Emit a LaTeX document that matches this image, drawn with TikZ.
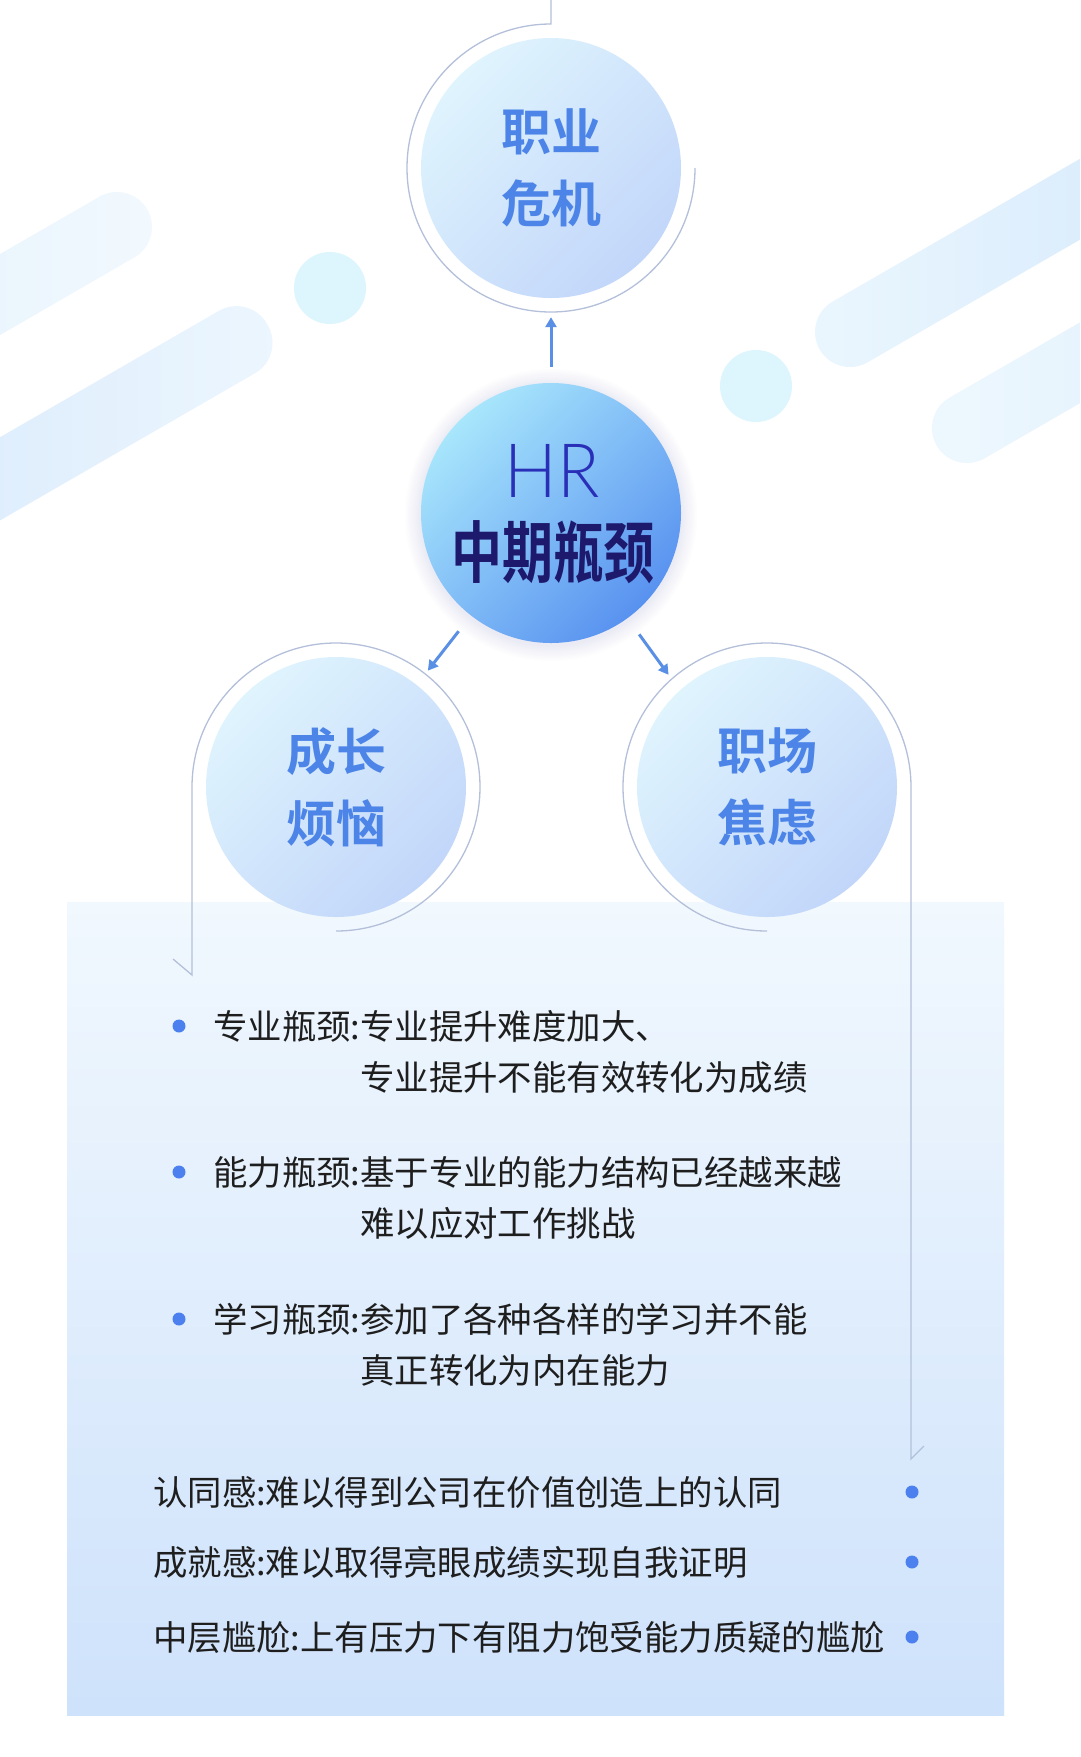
\documentclass[tikz,border=0pt]{standalone}
\usepackage{fontspec}
\usepackage{graphicx}
\usetikzlibrary{calc,arrows.meta}
\newfontfamily\cjk{Noto Sans CJK SC}
\IfFontExistsTF{Noto Sans CJK SC Bold}{\newfontfamily\cjkb{Noto Sans CJK SC Bold}}{\newfontfamily\cjkb{Noto Sans CJK SC}[FakeBold=2]}
\IfFontExistsTF{Lato Light}{\newfontfamily\hrfont{Lato Light}}{\newfontfamily\hrfont{Noto Sans}}
\definecolor{ringc}{HTML}{B4C0DA}
\definecolor{arrowc}{HTML}{5A8FE6}
\definecolor{circtxt}{HTML}{4C84E8}
\definecolor{dotc}{HTML}{4B80EE}
\definecolor{txtc}{HTML}{1E1E1E}
\definecolor{hrtxt}{HTML}{2A2FB8}
\definecolor{hrcn}{HTML}{1D1A6E}
\definecolor{cla}{HTML}{DFF4FD}
\definecolor{clb}{HTML}{C2D6FA}
\definecolor{cha}{HTML}{A8E6FC}
\definecolor{chb}{HTML}{5892F0}
\definecolor{boxa}{HTML}{F1F8FE}
\definecolor{boxb}{HTML}{CEE2FB}
\definecolor{dotcyan}{HTML}{DDF5FD}
\definecolor{pa}{HTML}{DDEEFC}
\definecolor{pb}{HTML}{F2F9FE}
\definecolor{pc}{HTML}{D2E6FB}
\definecolor{pd}{HTML}{ECF6FE}
\definecolor{pe}{HTML}{EBF7FE}
\definecolor{pf}{HTML}{D0E5FB}
\definecolor{pg}{HTML}{EEF8FE}
\begin{document}
\begin{tikzpicture}[x=1pt,y=1pt,
  sub/.style={circle, minimum size=260pt, inner sep=0pt, top color=cla, bottom color=clb, shading angle=45,
    font=\cjkb\fontsize{50}{72}\selectfont, text=circtxt, align=center},
  hrcirc/.style={circle, minimum size=260pt, inner sep=0pt, top color=cha, bottom color=chb, shading angle=45},
  ring/.style={draw=ringc, line width=1.3pt},
  arr/.style={draw=arrowc, line width=3pt, -{Triangle[length=10pt,width=11pt]}},
  txt/.style={font=\cjk\fontsize{34.4}{51}\selectfont, text=txtc, inner sep=0pt, anchor=base west},
  dot/.style={circle, fill=dotc, minimum size=13pt, inner sep=0pt},
  pill/.style={rounded corners=35pt}
]
\useasboundingbox (0,0) rectangle (1080,-1757);
\clip (0,0) rectangle (1080,-1757);
\fill[white] (0,0) rectangle (1080,-1757);

% decorative pills and dots
\begin{scope}[shift={(117,-227)}, rotate=30]
  \shade[pill, left color=pa, right color=pb] (-500,-35) rectangle (35,35);
\end{scope}
\begin{scope}[shift={(237,-342)}, rotate=30]
  \shade[pill, left color=pc, right color=pd] (-600,-36) rectangle (35,36);
\end{scope}
\begin{scope}[shift={(850,-332)}, rotate=30]
  \shade[pill, left color=pe, right color=pf] (-35,-35) rectangle (500,35);
\end{scope}
\begin{scope}[shift={(967,-428)}, rotate=30]
  \shade[pill, left color=pg, right color=pa] (-35,-35) rectangle (400,35);
\end{scope}
\fill[dotcyan] (330,-288) circle (36);
\fill[dotcyan] (756,-386) circle (36);

% light box
\shade[top color=boxa, bottom color=boxb] (67,-902) rectangle (1004,-1715);

% centre glow
\foreach \i in {1,...,10}
  \fill[black!45!blue!25, opacity=0.025] (551,-515) circle (130+1.6*\i);

% circles
\node[sub] (top) at (551,-168) {职业\\危机};
\node[sub] (left) at (336,-787) {成长\\烦恼};
\node[sub] (right) at (767,-787) {职场\\焦虑};
\node[hrcirc] (hr) at (551,-513) {};
\node[font=\hrfont\fontsize{75}{80}\selectfont, text=hrtxt, inner sep=0pt] (hrA) at (552,-471) {\scalebox{0.93}[1]{HR}};
\node[font=\cjkb\fontsize{67}{70}\selectfont, text=hrcn, inner sep=0pt] (hrB) at (553,-552) {\scalebox{0.76}[1]{中期瓶颈}};

% rings
\coordinate (topin) at (551,0);
\draw[ring] (topin) -- ($(top.center)+(0,144)$) arc[start angle=90, end angle=360, radius=144];
\draw[ring] ($(left.center)+(0,-144)$) arc[start angle=-90, end angle=180, radius=144]
  -- ++(0,-188) coordinate (lend) -- ++(-19,16);
\draw[ring] ($(right.center)+(0,-144)$) arc[start angle=270, end angle=0, radius=144]
  -- ++(0,-672) coordinate (rend) -- ++(13,13);

% arrows
\draw[arr] ($(hr.north)+(0,16)$) -- ($(top.south)+(0,-19)$);
\draw[arr] ($(hr.center)+(232:150)$) -- ($(hr.center)+(232:200)$);
\draw[arr] ($(hr.center)+(306:150)$) -- ($(hr.center)+(306:200)$);

% bullet list
\node[dot] (d1) at (179,-1026) {};
\node[txt] (b1) at (213,-1039) {\begin{tabular}[t]{@{}l@{}l@{}}专业瓶颈:&专业提升难度加大、\\&专业提升不能有效转化为成绩\end{tabular}};
\node[dot] (d2) at (179,-1172) {};
\node[txt] (b2) at (213,-1185) {\begin{tabular}[t]{@{}l@{}l@{}}能力瓶颈:&基于专业的能力结构已经越来越\\&难以应对工作挑战\end{tabular}};
\node[dot] (d3) at (179,-1319) {};
\node[txt] (b3) at (213,-1332) {\begin{tabular}[t]{@{}l@{}l@{}}学习瓶颈:&参加了各种各样的学习并不能\\&真正转化为内在能力\end{tabular}};

% lower list
\node[txt] (c1) at (153,-1505) {认同感:难以得到公司在价值创造上的认同};
\node[txt] (c2) at (153,-1575) {成就感:难以取得亮眼成绩实现自我证明};
\node[txt] (c3) at (153,-1650) {中层尴尬:上有压力下有阻力饱受能力质疑的尴尬};
\node[dot] (e1) at (912,-1492) {};
\node[dot] (e2) at (912,-1562) {};
\node[dot] (e3) at (912,-1637) {};
\end{tikzpicture}
\end{document}
